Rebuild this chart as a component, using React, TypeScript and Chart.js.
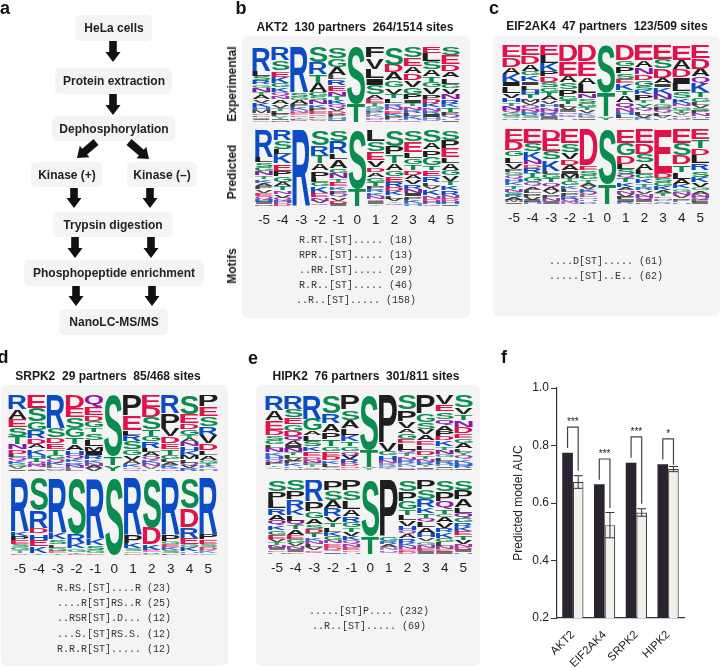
import React, { useEffect, useRef } from "react";
import { Chart, registerables } from "chart.js";

Chart.register(...registerables);

// ---------- Data: sequence logos (letters top to bottom, letter + relative height) ----------
const positions = ["-5", "-4", "-3", "-2", "-1", "0", "1", "2", "3", "4", "5"];

const akt2Experimental = [
  "R70 L15 S12 R12 G11 N12 T8 A12 V10 K12 H10 M8 D6 P6 Q5 I4 C4",
  "R38 S27 E17 K18 G12 K12 Q10 N10 A14 V10 T8 L8 P7 Y6 I5 M4",
  "R136 S14 G10 A12 P10 K8 N7 E7 D6 T5 L5 Q3 V2",
  "S48 R35 T25 A28 G13 S12 N12 K11 P10 E8 Q6 L6 D5 V4 H2",
  "S30 G23 A22 L10 R16 E14 N13 T10 K12 Q10 V8 D8 P7 H6 I4 F2",
  "S170 T55",
  "F32 V33 L27 I22 S28 A14 E12 T9 G9 R7 P7 K7 N6 D5 Q4",
  "S50 D21 A22 G20 V17 T13 L13 R10 N10 E8 K7 P7 H5 Q4",
  "S30 E24 A20 D20 V20 G20 P15 I10 T10 N10 R9 L8 K8 H5 Q4",
  "E18 L22 S22 A20 T17 G16 V18 P14 D12 K12 N10 R9 I8 H7 Q6",
  "S24 E26 D20 A18 L18 G14 V16 N15 R12 K11 T12 P10 Q8 H6 I5",
];
const akt2Predicted = [
  "R75 L14 S12 G12 N11 T10 K10 A10 P9 V9 E9 Q8 H7 I6 M5",
  "R28 S25 L15 K25 E20 P15 G15 A12 T12 N10 V10 Q8 H7 D7",
  "R225",
  "S45 R30 T25 A20 P22 L12 G14 K20 E12 N10 V8 Q7",
  "S32 R33 L17 A25 G14 N15 T10 E14 K10 P10 Q10 V10 D8 I6",
  "S175 T50",
  "L35 S30 E25 V22 D14 A14 G14 T12 P10 R10 K10 N9 Q7 I7 Y6",
  "S48 P25 T25 A20 G18 E18 R15 D13 K12 L10 V8 Y6 Q5 I2",
  "S33 E30 L17 G18 T15 D14 A14 V14 R12 N12 I10 P10 K9 H7",
  "S33 A20 P20 G24 T12 E17 R15 L10 V10 K15 N10 D8 H7 Q4",
  "S28 P25 E25 L16 A18 G16 V16 T12 K14 R12 N10 D8 H8 I5",
];
const eif2ak4Experimental = [
  "E37 D28 A22 K25 I12 L20 V15 H12 T10 N12 Q10 G8 S7 R5",
  "E30 D25 A20 G13 K17 I10 L14 H12 T12 M10 V10 Q10 N10 R8 S8 P6",
  "E30 L22 K23 P15 D18 S15 G12 T12 A12 V10 H10 N10 Q8 R8 I7 M3",
  "D50 E43 A20 S20 P20 G13 T12 L8 V8 I7 N6 K6 Q6 H6",
  "D50 E45 A22 L28 N15 S14 G12 T10 V9 K7 P5 Q4 I4",
  "S145 T70 Y10",
  "D47 G18 P20 S17 E13 K20 T15 A22 Q18 N12 H10 L8 V5",
  "E43 A20 N20 D17 G15 S12 K12 P15 T10 Y12 Q10 L10 V8 R6",
  "E43 S27 D27 A15 I11 K22 N15 T12 G10 P10 Q8 L8 V7 H5",
  "E45 A28 D24 I20 L23 S20 K15 N10 G10 T8 V7 P6 H5 Q4",
  "E40 D30 A23 Q20 K27 T15 G12 L10 V8 S8 P8 N8 H6 I5",
];
const eif2ak4Predicted = [
  "E35 D25 G18 L17 V17 P8 G10 Q10 H8 K10 T10 N8 S8 R7 A8 M6 I5",
  "E40 S25 K23 N13 D10 R15 T12 G15 Q10 A10 L10 P10 V8 I6 H6",
  "D32 E33 S23 K32 L10 G12 T12 Q12 A12 V10 P10 N10 I7",
  "E42 S26 V20 D17 A15 I10 M12 T10 G12 K10 L10 P10 R8 Q8 N7",
  "D110 E15 S15 G12 T10 A10 V8 K10 Q8 L7 N6 H6 R4 P4",
  "S165 T60",
  "E40 G35 D25 L15 S15 Q12 T12 K12 A10 N10 V8 P8 I7 R6",
  "E40 D30 S25 A20 L12 G12 K14 T10 R10 V10 N8 Q8 I6 P5",
  "E130 D15 S12 G12 K12 A10 T8 L6 N6 P4 V4 R3",
  "E38 S34 D25 T20 L18 A14 K12 G10 N8 V8 Q6 P6 H4",
  "E30 T25 D20 L22 R20 S18 K15 V12 G10 A10 N8 Q8 P6 I6",
];
const srpk2Experimental = [
  "R42 A30 E23 S27 T23 N17 D13 L10 Q10 K10 G8 V7 I5",
  "E40 S40 G26 R24 D18 A12 K18 H10 T12 Q8 N8 V6 I4",
  "R100 S28 D17 E17 T18 G12 Q10 K8 L7 N6 V4",
  "D38 E27 S33 G27 T20 A17 H13 Q12 K10 R10 N8 L7",
  "Q35 E25 D18 G20 T14 S23 L20 M15 I12 R12 K10 N8 A8 V8",
  "S185 T27 Y16",
  "P65 E45 L15 R20 S25 G20 V15 A12 K10 N6 Q5",
  "E35 D30 S35 T20 G15 R20 L12 A12 Q10 K10 N8 V7 H6",
  "R55 P45 V25 D20 E17 T18 G12 L10 A8 K8 Q5 N5",
  "S58 E27 D17 G18 T10 A12 N13 H15 K12 M12 L10 Q8 V8 R8",
  "P35 E30 S30 R25 V25 D20 L15 A15 G10 T8 K7 N5 H3",
];
const srpk2Predicted = [
  "R156 K14 P12 E12 S10 G8 T7 D6",
  "S96 R50 D17 H18 E20 K20 T4",
  "R160 K20 S15 L10 G8 E7 T5",
  "S165 R27 K15 G10 T5 E3",
  "R175 K22 S14 G8 E6",
  "S225",
  "R165 P25 K15 S10 G6 E4",
  "S145 D50 K15 E7 R5 G3",
  "R165 P20 G8 E10 K8 S8 L6",
  "S90 D55 R30 E20 G8 K12 H6 P4",
  "R165 P15 E14 S10 D8 K7 G6",
];
const hipk2Experimental = [
  "R45 A30 E30 D17 S15 G12 L10 N14 K10 H10 Q10 P8 T6 V6 I2",
  "R42 S26 E20 G20 D17 Q15 A12 I8 N12 T8 L9 V8 P8 K8 H6 M6",
  "R72 G36 A14 L16 S17 K15 E15 D10 N8 P7 T7 V5 Q3",
  "S55 R30 A27 P20 T23 G15 E15 D12 K10 L8 V5 N5",
  "P45 S30 A25 L20 K20 T15 G15 Q12 V12 R12 D8 N6 E5",
  "S165 T53 Y7",
  "P145 V23 G12 H15 N10 R7 Q5 K3 T3 S2",
  "S45 P33 V22 A15 G17 E13 L20 Q10 T10 N10 R10 K7 H5 D4 I4",
  "P55 G27 S20 V17 A18 E15 L15 D15 T10 N9 R8 Y7 I5 Q4",
  "V28 E20 S22 Q18 A17 P15 D13 K17 T10 N12 G10 L10 R8 H7 I6 M5",
  "S35 V20 T17 N18 D18 E14 G13 A15 L10 Y10 Q10 K10 H8 R7 I5",
];
const hipk2Predicted = [
  "S35 P25 L25 R20 A17 Q15 K14 G14 E12 V10 T8 N8 I7 D6 H6",
  "S32 P26 R27 K20 L15 Q14 T12 A15 E12 G12 V10 N9 I7 D6",
  "R65 P30 G20 A18 S15 D12 T12 K10 N10 L9 V8 E6 Q6",
  "P30 S30 A25 R25 V18 T15 L14 K12 G12 N10 E10 D8 Q7 I6",
  "P30 S30 L25 A20 R18 G15 T12 V12 K12 Q10 N10 E8 D6 H6",
  "S170 T55",
  "P168 G15 R10 A10 N7 H6 Q4 K2",
  "S32 P26 G24 T15 L14 V16 H12 Q10 A12 R12 K10 N8 E6 D6",
  "P26 S26 R22 K15 T12 Q12 L14 A14 H12 V10 G10 N10 E8 I6",
  "S30 P25 Q22 T12 C8 A14 V15 R12 K14 G12 L10 N8 E6 I6",
  "S28 P25 A22 L15 Q14 G12 R12 K12 E12 T12 V12 N8 D8 I6 H4",
];

// ---------- Data: bar chart ----------
const kinases = ["AKT2", "EIF2AK4", "SRPK2", "HIPK2"];
const aucMeasured = [0.775, 0.665, 0.74, 0.735];
const aucControl = [0.673, 0.523, 0.567, 0.718];
const aucControlError = [0.022, 0.044, 0.013, 0.009];
const bracketTop = [0.864, 0.753, 0.83, 0.823];
const bracketLeftEnd = [0.791, 0.681, 0.757, 0.751];
const bracketRightEnd = [0.712, 0.583, 0.597, 0.733];
const significance = ["***", "***", "***", "*"];
const yTicks = [0.2, 0.4, 0.6, 0.8, 1.0];

// ---------- Data: text ----------
const akt2Motifs = ["R.RT.[ST]..... (18)", "RPR..[ST]..... (13)", "..RR.[ST]..... (29)", "R.R..[ST]..... (46)", "..R..[ST]..... (158)"];
const eif2ak4Motifs = ["....D[ST]..... (61)", ".....[ST]..E.. (62)"];
const srpk2Motifs = ["R.RS.[ST]....R (23)", "....R[ST]RS..R (25)", "..RSR[ST].D... (12)", "...S.[ST]RS.S. (12)", "R.R.R[ST]..... (12)"];
const hipk2Motifs = [".....[ST]P.... (232)", "..R..[ST]..... (69)"];

const flowBoxes: [string, number, number, number, number][] = [
  ["HeLa cells", 75, 15, 77, 26],
  ["Protein extraction", 55, 68, 117, 26],
  ["Dephosphorylation", 52, 116, 123, 25],
  ["Kinase (+)", 31, 162, 71, 25],
  ["Kinase (–)", 127, 162, 70, 25],
  ["Trypsin digestion", 53, 212, 120, 25],
  ["Phosphopeptide enrichment", 24, 260, 180, 26],
  ["NanoLC-MS/MS", 59, 309, 109, 26],
];
const flowArrows: [number, number, number, number][] = [
  [113, 41, 113, 62],
  [113, 94, 113, 115],
  [96, 142, 77, 158],
  [129, 142, 149, 159],
  [74, 188, 74, 208],
  [150, 188, 150, 208],
  [75, 237, 75, 258],
  [151, 237, 151, 258],
  [76, 286, 76, 306],
  [152, 286, 152, 306],
];

const SANS = '"Liberation Sans", Arial, sans-serif';
const MONO = '"Liberation Mono", monospace';

const LETTER_COLORS: Record<string, string> = {
  R: "#0b4cc6", K: "#0b4cc6", H: "#0b4cc6",
  S: "#0a8c4e", T: "#0a8c4e", G: "#0a8c4e", Y: "#0a8c4e", C: "#0a8c4e",
  D: "#e2114a", E: "#e2114a",
  N: "#8a18a6", Q: "#8a18a6",
  A: "#1e1e1e", V: "#1e1e1e", L: "#1e1e1e", I: "#1e1e1e", P: "#1e1e1e", F: "#1e1e1e", M: "#1e1e1e", W: "#1e1e1e",
};

function buildLogoDatasets(columns: string[]) {
  const parsed = columns.map((col) => {
    const items = col.split(" ").map((t) => ({ letter: t[0], value: Number(t.slice(1)) }));
    const total = items.reduce((a, b) => a + b.value, 0);
    return items.reverse().map((i) => ({ letter: i.letter, value: (i.value / total) * 100 }));
  });
  const depth = Math.max(...parsed.map((p) => p.length));
  const datasets: any[] = [];
  for (let d = 0; d < depth; d++) {
    datasets.push({
      data: parsed.map((p) => (p[d] ? p[d].value : 0)),
      letters: parsed.map((p) => (p[d] ? p[d].letter : "")),
      backgroundColor: "rgba(0,0,0,0)",
      barPercentage: 1,
      categoryPercentage: 1,
      stack: "logo",
    });
  }
  return datasets;
}

const letterPlugin = {
  id: "letters",
  afterDatasetsDraw(chart: any) {
    const ctx = chart.ctx;
    chart.data.datasets.forEach((ds: any, di: number) => {
      const meta = chart.getDatasetMeta(di);
      meta.data.forEach((bar: any, i: number) => {
        const letter = ds.letters[i];
        if (!letter || !ds.data[i]) return;
        const top = Math.min(bar.y, bar.base);
        const h = Math.abs(bar.base - bar.y);
        const w = bar.width;
        ctx.save();
        ctx.font = `bold 100px ${SANS}`;
        ctx.textBaseline = "alphabetic";
        ctx.textAlign = "left";
        ctx.fillStyle = LETTER_COLORS[letter];
        ctx.globalAlpha = h < 2.5 ? 0.6 : h < 4 ? 0.85 : 1;
        const m = ctx.measureText(letter);
        const gw = m.actualBoundingBoxLeft + m.actualBoundingBoxRight;
        const gh = m.actualBoundingBoxAscent + m.actualBoundingBoxDescent;
        const gap = h > 3 ? 0.7 : 0.3;
        ctx.translate(bar.x - w / 2 + 0.4, top + gap / 2);
        ctx.scale((w - 0.8) / gw, Math.max(h - gap, 0.2) / gh);
        ctx.translate(m.actualBoundingBoxLeft, m.actualBoundingBoxAscent);
        ctx.fillText(letter, 0, 0);
        ctx.restore();
      });
    });
  },
};

function LogoChart(props: { columns: string[]; left: number; top: number; width: number; height: number; ticks?: boolean }) {
  const ref = useRef<HTMLCanvasElement>(null);
  const axisH = 26;
  useEffect(() => {
    const chart = new Chart(ref.current as HTMLCanvasElement, {
      type: "bar",
      data: { labels: positions, datasets: buildLogoDatasets(props.columns) },
      plugins: [letterPlugin],
      options: {
        responsive: false,
        animation: false,
        layout: { padding: 0 },
        plugins: { legend: { display: false }, tooltip: { enabled: false } },
        scales: {
          x: {
            display: !!props.ticks,
            stacked: true,
            grid: { display: false, drawTicks: false },
            border: { display: false },
            afterFit: (s: any) => { s.height = props.ticks ? axisH : 0; },
            ticks: { color: "#222", font: { family: SANS, size: 13.5 }, padding: 6, maxRotation: 0, autoSkip: false },
          },
          y: { display: false, stacked: true, min: 0, max: 100 },
        },
      },
    } as any);
    return () => chart.destroy();
  }, []);
  return (
    <canvas
      ref={ref}
      width={props.width}
      height={props.height + (props.ticks ? axisH : 0)}
      style={{ position: "absolute", left: props.left, top: props.top, filter: "blur(0.35px)" }}
    />
  );
}

const barAnnotations = {
  id: "barAnnotations",
  afterDatasetsDraw(chart: any) {
    const ctx = chart.ctx;
    const y = chart.scales.y;
    const dark = chart.getDatasetMeta(0).data;
    const light = chart.getDatasetMeta(1).data;
    ctx.save();
    kinases.forEach((_, i) => {
      const xl = dark[i].x;
      const xr = light[i].x;
      const hi = y.getPixelForValue(aucControl[i] + aucControlError[i]);
      const lo = y.getPixelForValue(aucControl[i] - aucControlError[i]);
      ctx.strokeStyle = "#333";
      ctx.lineWidth = 1;
      ctx.beginPath();
      ctx.moveTo(xr, hi); ctx.lineTo(xr, lo);
      ctx.moveTo(xr - 4.5, hi); ctx.lineTo(xr + 4.5, hi);
      ctx.moveTo(xr - 4.5, lo); ctx.lineTo(xr + 4.5, lo);
      ctx.stroke();
      ctx.strokeStyle = "#444";
      ctx.lineWidth = 1.2;
      ctx.beginPath();
      ctx.moveTo(xl, y.getPixelForValue(bracketLeftEnd[i]));
      ctx.lineTo(xl, y.getPixelForValue(bracketTop[i]));
      ctx.lineTo(xr, y.getPixelForValue(bracketTop[i]));
      ctx.lineTo(xr, y.getPixelForValue(bracketRightEnd[i]));
      ctx.stroke();
      ctx.fillStyle = "#222";
      ctx.font = `10px ${SANS}`;
      ctx.textAlign = "center";
      ctx.textBaseline = "middle";
      ctx.fillText(significance[i], (xl + xr) / 2, y.getPixelForValue(bracketTop[i]) - 5);
    });
    ctx.restore();
  },
};

function BarChart() {
  const ref = useRef<HTMLCanvasElement>(null);
  useEffect(() => {
    const chart = new Chart(ref.current as HTMLCanvasElement, {
      type: "bar",
      data: {
        labels: kinases,
        datasets: [
          { data: aucMeasured, backgroundColor: "#2a2430", borderColor: "#2a2430", borderWidth: 0, barPercentage: 1, categoryPercentage: 0.67 },
          { data: aucControl, backgroundColor: "#f1f1ec", borderColor: "#444", borderWidth: 1.2, barPercentage: 1, categoryPercentage: 0.67 },
        ],
      },
      plugins: [barAnnotations],
      options: {
        responsive: false,
        animation: false,
        layout: { padding: { top: 43, right: 36, bottom: 0, left: 0 } },
        plugins: { legend: { display: false }, tooltip: { enabled: false } },
        scales: {
          x: {
            grid: { display: false },
            border: { display: true, color: "#333", width: 1.2 },
            afterFit: (s: any) => { s.height = 50; },
            ticks: { color: "#222", font: { family: SANS, size: 11.5 }, minRotation: 45, maxRotation: 45, padding: 2, autoSkip: false },
          },
          y: {
            min: 0.2,
            max: 1,
            afterFit: (s: any) => { s.width = 77; },
            afterBuildTicks: (s: any) => { s.ticks = yTicks.map((value) => ({ value })); },
            border: { display: true, color: "#333", width: 1.2 },
            grid: { drawOnChartArea: false, tickLength: 6, color: "#333", lineWidth: 1 },
            ticks: { color: "#222", font: { family: SANS, size: 12 }, padding: 2, callback: (v: any) => Number(v).toFixed(1) },
            title: { display: true, text: "Predicted model AUC", color: "#222", font: { family: SANS, size: 12 }, padding: { top: 31, bottom: 0 } },
          },
        },
      },
    } as any);
    return () => chart.destroy();
  }, []);
  return <canvas ref={ref} width={240} height={323} style={{ position: "absolute", left: 480, top: 345 }} />;
}

function Text(props: { x: number; y: number; children: any; size?: number; bold?: boolean; font?: string; color?: string; rotate?: boolean }) {
  return (
    <div
      style={{
        position: "absolute",
        left: props.x,
        top: props.y,
        transform: `translate(-50%,-50%)${props.rotate ? " rotate(-90deg)" : ""}`,
        willChange: "transform",
        whiteSpace: "pre",
        fontFamily: props.font || SANS,
        fontSize: props.size || 12,
        fontWeight: props.bold ? 700 : 400,
        color: props.color || "#1a1a1a",
        lineHeight: 1,
      }}
    >
      {props.children}
    </div>
  );
}

function Panel(props: { x: number; y: number; w: number; h: number }) {
  return <div style={{ position: "absolute", left: props.x, top: props.y, width: props.w, height: props.h, background: "#f4f4f4", borderRadius: 6 }} />;
}

function Arrow(props: { a: [number, number, number, number] }) {
  const [x1, y1, x2, y2] = props.a;
  const len = Math.hypot(x2 - x1, y2 - y1);
  const angle = (Math.atan2(y2 - y1, x2 - x1) * 180) / Math.PI;
  return (
    <polygon
      transform={`translate(${x1} ${y1}) rotate(${angle})`}
      points={`0,-3.8 ${len - 10},-3.8 ${len - 10},-7.5 ${len},0 ${len - 10},7.5 ${len - 10},3.8 0,3.8`}
      fill="#111"
    />
  );
}

function Motifs(props: { lines: string[]; x: number; y: number; step: number }) {
  return (
    <>
      {props.lines.map((l, i) => (
        <Text key={i} x={props.x} y={props.y + i * props.step} font={MONO} size={10} color="#333">
          {l}
        </Text>
      ))}
    </>
  );
}

export default function App() {
  return (
    <div style={{ position: "absolute", left: 0, top: 0, width: 720, height: 668, overflow: "hidden", background: "#fff" }}>
      <Panel x={242} y={36} w={228} h={282} />
      <Panel x={493} y={36} w={227} h={280} />
      <Panel x={1} y={385} w={227} h={281} />
      <Panel x={256} y={385} w={224} h={281} />

      {flowBoxes.map(([t, x, y, w, h]) => (
        <React.Fragment key={t}>
          <div style={{ position: "absolute", left: x, top: y, width: w, height: h, background: "#f4f4f4", borderRadius: 5 }} />
          <Text x={x + w / 2} y={y + h / 2} bold size={12} color="#222">{t}</Text>
        </React.Fragment>
      ))}
      <svg width={220} height={340} style={{ position: "absolute", left: 0, top: 0 }}>
        {flowArrows.map((a, i) => <Arrow key={i} a={a} />)}
      </svg>

      <Text x={5} y={8} bold size={18} color="#111">a</Text>
      <Text x={241} y={8} bold size={18} color="#111">b</Text>
      <Text x={494} y={8} bold size={18} color="#111">c</Text>
      <Text x={3} y={357} bold size={18} color="#111">d</Text>
      <Text x={253} y={358} bold size={18} color="#111">e</Text>
      <Text x={504} y={357} bold size={18} color="#111">f</Text>

      <Text x={355} y={27} bold size={12}>{"AKT2  130 partners  264/1514 sites"}</Text>
      <Text x={607} y={26} bold size={12}>{"EIF2AK4  47 partners  123/509 sites"}</Text>
      <Text x={108} y={376} bold size={12}>{"SRPK2  29 partners  85/468 sites"}</Text>
      <Text x={366} y={376} bold size={12}>{"HIPK2  76 partners  301/811 sites"}</Text>

      <Text x={232} y={84} bold size={12} rotate>Experimental</Text>
      <Text x={232} y={172} bold size={12} rotate>Predicted</Text>
      <Text x={232} y={266} bold size={12} rotate>Motifs</Text>

      <LogoChart columns={akt2Experimental} left={252} top={47} width={208} height={75} />
      <LogoChart columns={akt2Predicted} left={252} top={130} width={208} height={76} ticks />
      <LogoChart columns={eif2ak4Experimental} left={502} top={45} width={208} height={75} />
      <LogoChart columns={eif2ak4Predicted} left={502} top={129} width={208} height={75} ticks />
      <LogoChart columns={srpk2Experimental} left={8} top={395} width={210} height={76} />
      <LogoChart columns={srpk2Predicted} left={8} top={478} width={210} height={77} ticks />
      <LogoChart columns={hipk2Experimental} left={265} top={395} width={208} height={75} />
      <LogoChart columns={hipk2Predicted} left={265} top={480} width={208} height={74} ticks />

      <Motifs lines={akt2Motifs} x={356} y={241} step={15} />
      <Motifs lines={eif2ak4Motifs} x={606} y={262} step={15} />
      <Motifs lines={srpk2Motifs} x={114} y={589} step={15.2} />
      <Motifs lines={hipk2Motifs} x={369} y={612} step={15} />

      <BarChart />
    </div>
  );
}
